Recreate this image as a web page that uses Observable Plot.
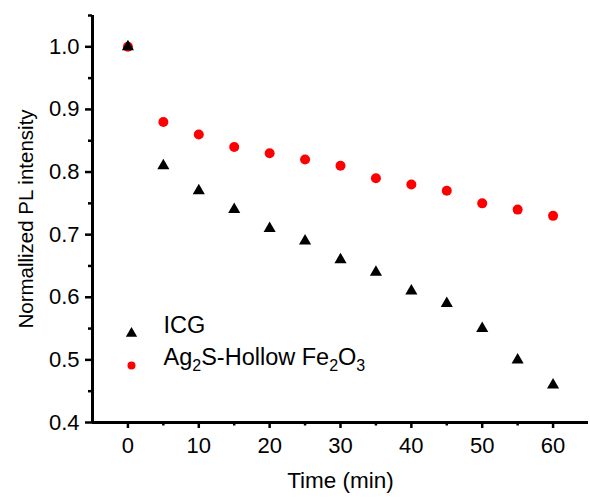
<!DOCTYPE html>
<html><head><meta charset="utf-8">
<script src="https://cdn.jsdelivr.net/npm/d3@7"></script>
<script src="https://cdn.jsdelivr.net/npm/@observablehq/plot@0.6"></script>
<style>body{margin:0;background:#fff;} svg{font-family:"Liberation Sans",Arial,sans-serif;}
g[aria-label$="tick label"]{font-size:22px !important;}
g[aria-label$="tick label"] text{font-size:22px !important;}
</style>
</head><body><div id="chart"></div>
<script>
const times = [0,5,10,15,20,25,30,35,40,45,50,55,60];
const icg = [1.0,0.81,0.77,0.74,0.71,0.69,0.66,0.64,0.61,0.59,0.55,0.50,0.46];
const ag2s = [1.0,0.88,0.86,0.84,0.83,0.82,0.81,0.79,0.78,0.77,0.75,0.74,0.73];
const xTicks = [0,10,20,30,40,50,60];
const xMinor = [5,15,25,35,45,55];
const yTicks = [0.4,0.5,0.6,0.7,0.8,0.9,1.0];
const yMinor = [0.45,0.55,0.65,0.75,0.85,0.95,1.05];
const seriesNames = ["ICG","Ag2S-Hollow Fe2O3"];

const icgData = times.map((t,i)=>({t, v: icg[i]}));
const agData = times.map((t,i)=>({t, v: ag2s[i]}));

const chart = Plot.plot({
  width: 590, height: 502,
  marginLeft: 92, marginTop: 15, marginRight: 2, marginBottom: 80,
  style: {fontFamily: '"Liberation Sans", Arial, sans-serif', fontSize: "22px", color: "black", background: "white"},
  x: {domain: [-5, 65]},
  y: {domain: [0.4, 1.05]},
  marks: [
    Plot.axisX({ticks: xTicks, tickSize: 6, tickPadding: 9, tickFormat: d3.format("d"), fontSize: 22, strokeWidth: 2.5, label: null}),
    Plot.axisX({ticks: xMinor, tickSize: 3.5, text: null, strokeWidth: 2.5, label: null}),
    Plot.axisY({ticks: yTicks, tickSize: 7, tickPadding: 6, tickFormat: d3.format(".1f"), fontSize: 22, strokeWidth: 2.5, label: null}),
    Plot.axisY({ticks: yMinor, tickSize: 4, text: null, strokeWidth: 2.5, label: null}),
    Plot.ruleX([-5], {stroke: "black", strokeWidth: 3}),
    Plot.ruleY([0.4], {stroke: "black", strokeWidth: 3}),
    Plot.dot(agData, {x: "t", y: "v", r: 5, fill: "#ff0000", symbol: "circle"}),
    Plot.dot(icgData, {x: "t", y: "v", r: 4.5, fill: "black", symbol: "triangle"}),
    // legend
    Plot.dot([seriesNames[0]], {frameAnchor: "bottom-left", dx: 39, dy: -89, r: 4.2, fill: "black", symbol: "triangle"}),
    Plot.dot([seriesNames[1]], {frameAnchor: "bottom-left", dx: 39, dy: -57, r: 4, fill: "#ff0000", symbol: "circle"}),
    Plot.text([seriesNames[0]], {text: d=>d, frameAnchor: "bottom-left", dx: 71, dy: -90, textAnchor: "start", fontSize: 23.5, fill: "black"}),
    Plot.text([seriesNames[1]], {text: d=>d, frameAnchor: "bottom-left", dx: 71, dy: -58, textAnchor: "start", fontSize: 23.5, fill: "black"}),
    // axis titles
    Plot.text(["Time (min)"], {text: d=>d, frameAnchor: "bottom", dy: 65, fontSize: 22.5, fill: "black"}),
    Plot.text(["Normallized PL intensity"], {text: d=>d, frameAnchor: "left", textAnchor: "middle", dx: -66, rotate: -90, fontSize: 20.5, fill: "black"})
  ]
});
document.getElementById("chart").appendChild(chart);

// subscripts in legend label
chart.querySelectorAll("text").forEach(el => {
  if (el.textContent === seriesNames[1]) {
    const parts = [["Ag",0],["2",1],["S-Hollow Fe",0],["2",1],["O",0],["3",1]];
    el.textContent = "";
    parts.forEach(([s,sub]) => {
      const ts = document.createElementNS("http://www.w3.org/2000/svg","tspan");
      ts.textContent = s;
      if (sub) { ts.setAttribute("baseline-shift","-35%"); ts.setAttribute("font-size","16"); }
      el.appendChild(ts);
    });
  }
});
</script></body></html>
